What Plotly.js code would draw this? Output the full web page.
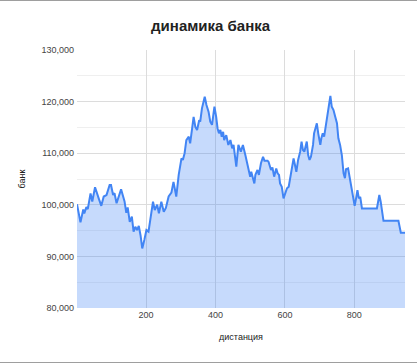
<!DOCTYPE html>
<html>
<head>
<meta charset="utf-8">
<script src="https://cdn.plot.ly/plotly-3.0.1.min.js"></script>
<style>
html,body{margin:0;padding:0;background:#fff;}
#wrap{position:relative;width:417px;height:364px;}
#chart{width:417px;height:364px;}
#frame{position:absolute;left:0;top:0;width:417px;height:361px;border-top:1px solid #9e9e9e;border-bottom:1px solid #9e9e9e;pointer-events:none;}
</style>
</head>
<body>
<div id="wrap"><div id="chart"></div><div id="frame"></div></div>
<script>
const titleText = "динамика банка";
const xTitle = "дистанция";
const yTitle = "банк";

const distance = [1, 11, 19, 22, 28, 32, 40, 45, 53, 59, 64, 71, 78, 86, 95, 99, 105, 109, 115, 128,
  134, 138, 143, 147, 153, 159, 164, 169, 174, 179, 184, 189, 195, 201, 207, 212, 220, 225, 232, 237,
  244, 251, 257, 265, 273, 279, 287, 294, 302, 306, 311, 316, 323, 327, 333, 337, 342, 347, 353, 356,
  361, 366, 369, 374, 380, 385, 390, 395, 397, 402, 406, 410, 414, 418, 422, 425, 431, 437, 443, 448,
  452, 460, 466, 473, 479, 486, 491, 495, 500, 503, 507, 512, 515, 521, 525, 531, 537, 541, 550, 553,
  560, 564, 569, 575, 579, 583, 586, 591, 596, 601, 606, 611, 615, 620, 625, 629, 633, 638, 644, 648,
  652, 656, 663, 667, 671, 675, 681, 684, 688, 692, 696, 702, 705, 709, 713, 717, 721, 725, 728, 731,
  735, 740, 745, 750, 754, 759, 764, 769, 773, 776, 782, 786, 792, 797, 801, 805, 809, 813, 817, 822,
  865, 872, 876, 884, 927, 934, 946];

const bank = [100100, 96600, 99100, 98350, 99550, 99150, 102200, 100650, 103400, 101900, 101150, 99800, 101600, 101900, 103850, 103850, 101900, 102250, 100300, 103000,
  101600, 100650, 98450, 99500, 96700, 97700, 94800, 95750, 95100, 95900, 94100, 91550, 93200, 95100, 94800, 97400, 100600, 99000, 100000, 98350,
  100600, 98650, 99400, 101600, 102350, 104450, 101600, 105800, 109000, 108700, 110000, 112550, 113200, 111900, 114600, 117050, 115100, 114500, 116400, 116100,
  118700, 120000, 120950, 119350, 118050, 116100, 115500, 118050, 119000, 117050, 114800, 113850, 114500, 113200, 114150, 112550, 113500, 111600, 112550, 110950,
  111600, 107400, 111600, 110300, 111600, 109650, 108350, 107050, 105450, 106400, 105150, 104150, 105800, 106750, 105800, 108050, 109300, 108550, 108550, 108300,
  106750, 107250, 105450, 107050, 106100, 105800, 104150, 103500, 101250, 102250, 103200, 103500, 105150, 107050, 109000, 107700, 106400, 108700, 110300, 112250,
  110600, 110300, 112250, 109650, 108700, 109300, 111600, 113850, 115150, 115800, 113850, 111600, 112900, 113850, 113200, 115150, 116450, 118050, 119650, 121100,
  119000, 118350, 117050, 115800, 112900, 111600, 109650, 106100, 105150, 106900, 107050, 105450, 103500, 101900, 99800, 101250, 102850, 101250, 101550, 99300,
  99300, 101900, 100600, 96900, 96900, 94600, 94600];

const xTicks = [200, 400, 600, 800];

const font = "Liberation Sans, Arial, sans-serif";

Plotly.newPlot("chart", [{
  x: distance,
  y: bank,
  type: "scatter",
  mode: "lines",
  line: {color: "#4285f4", width: 2},
  fill: "tozeroy",
  fillcolor: "rgba(66,133,244,0.3)",
  hoverinfo: "x+y"
}], {
  width: 417, height: 364,
  margin: {l: 77, r: 12, t: 50, b: 56},
  paper_bgcolor: "#fff", plot_bgcolor: "#fff",
  showlegend: false,
  font: {family: font, size: 9, color: "#444"},
  title: {text: "<b>" + titleText + "</b>", font: {family: font, size: 15, color: "#222"},
    x: 0.505, xref: "container", xanchor: "center", y: 0.928, yref: "container", yanchor: "middle"},
  xaxis: {
    range: [1, 946],
    tickvals: xTicks,
    ticktext: xTicks.map(String),
    showgrid: true, gridcolor: "#dcdcdc", gridwidth: 1,
    zeroline: false, showline: false, ticks: "",
    tickfont: {size: 9, color: "#444"},
    title: {text: xTitle, font: {size: 9, color: "#222"}, standoff: 14}
  },
  yaxis: {
    range: [80000, 130000],
    dtick: 10000,
    tickformat: ",d",
    showgrid: true, gridcolor: "#dcdcdc", gridwidth: 1,
    minor: {dtick: 5000, showgrid: true, gridcolor: "#efefef", gridwidth: 1},
    zeroline: false, showline: false, ticks: "",
    tickfont: {size: 9, color: "#444"},
    ticklabelstandoff: 2,
    title: {text: yTitle, font: {size: 9, color: "#222"}, standoff: 14}
  }
}, {displayModeBar: false, staticPlot: true});
</script>
</body>
</html>
